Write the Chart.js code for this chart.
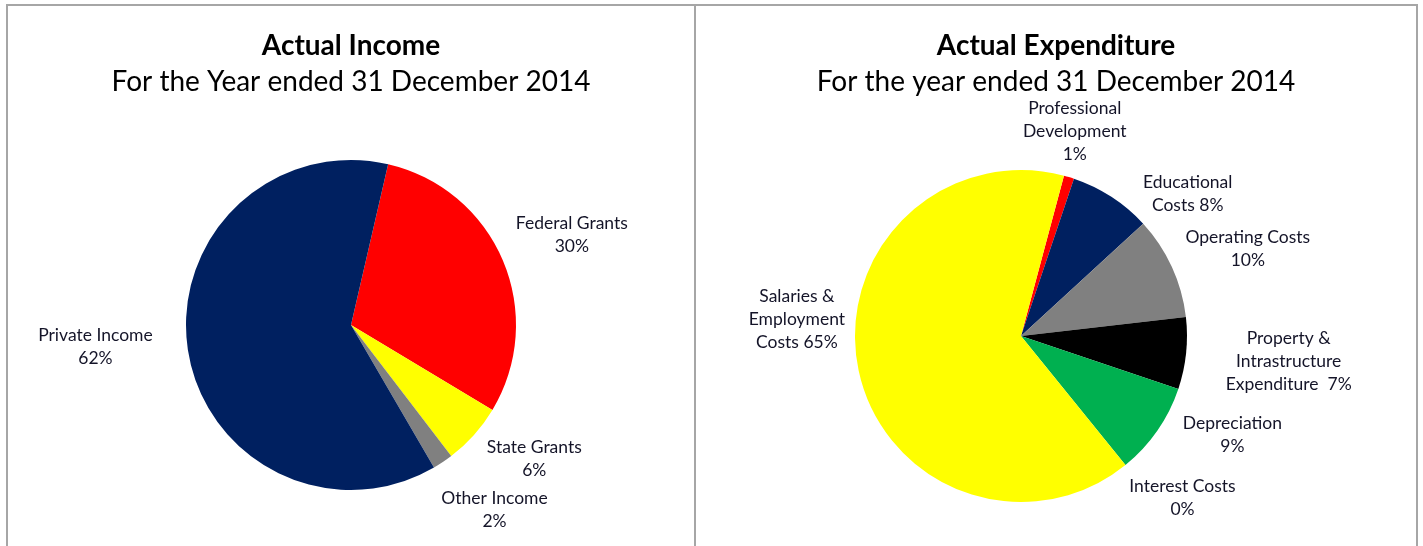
<!DOCTYPE html>
<html lang="en">
<head>
    <meta charset="UTF-8">
    <title>Actual Income and Expenditure 2014</title>
    <script src="https://cdn.jsdelivr.net/npm/chart.js"></script>
    <style>
        body { margin: 0; background: #fff; width: 1423px; height: 546px; overflow: hidden; position: relative; }
        .panel { position: absolute; top: 4px; height: 560px; border-top: 2px solid #a6a6a6; border-right: 2px solid #a6a6a6; box-sizing: border-box; }
        #leftPanel { left: 6px; width: 690px; border-left: 2px solid #a6a6a6; }
        #rightPanel { left: 696px; width: 722px; }
        canvas { position: absolute; top: 0; }
        #incomeChart { left: 8px; }
        #expenditureChart { left: 697px; }
    </style>
</head>
<body>
    <div class="panel" id="leftPanel"></div>
    <div class="panel" id="rightPanel"></div>
    <canvas id="incomeChart" width="686" height="546"></canvas>
    <canvas id="expenditureChart" width="718" height="546"></canvas>

    <script>
        // Income data (percent of total)
        const incomeLabels = [["Federal Grants"], ["State Grants"], ["Other Income"], ["Private Income"]];
        const incomeValues = [30, 6, 2, 62];
        const incomePctSep = ["\n", "\n", "\n", "\n"];  // "\n" = percentage on its own line
        const incomeColors = ["#FF0000", "#FFFF00", "#808080", "#002060"];

        // Expenditure data (percent of total)
        const expLabels = [
            ["Professional", "Development"],
            ["Educational", "Costs"],
            ["Operating Costs"],
            ["Property &", "Intrastructure", "Expenditure"],
            ["Depreciation"],
            ["Interest Costs"],
            ["Salaries &", "Employment", "Costs"]
        ];
        const expValues = [1, 8, 10, 7, 9, 0, 65];
        const expPctSep = ["\n", " ", "\n", "  ", "\n", "\n", " "];
        const expColors = ["#FF0000", "#002060", "#808080", "#000000", "#00B050", "#4472C4", "#FFFF00"];

        const FONT = "Lato, 'Open Sans', sans-serif";

        // two-line heading drawn at the canvas centre
        const headings = {
            id: "headings",
            afterDraw(chart, args, opts) {
                const ctx = chart.ctx;
                const cx = chart.width / 2;
                ctx.save();
                ctx.fillStyle = "#000";
                ctx.textAlign = "center";
                ctx.textBaseline = "alphabetic";
                ctx.font = "bold 28px " + FONT;
                ctx.fillText(opts.title, cx, 55);
                ctx.font = "28px " + FONT;
                ctx.fillText(opts.subtitle, cx, 91);
                ctx.restore();
            }
        };

        // Excel-style "outside end" labels: name + percentage
        const outsideLabels = {
            id: "outsideLabels",
            afterDatasetsDraw(chart, args, opts) {
                const ctx = chart.ctx;
                const ds = chart.data.datasets[0];
                const meta = chart.getDatasetMeta(0);
                const total = ds.data.reduce((a, b) => a + b, 0);
                const lh = 23;
                ctx.save();
                ctx.font = "17.5px " + FONT;
                ctx.fillStyle = "#141428";
                ctx.textAlign = "center";
                ctx.textBaseline = "middle";
                meta.data.forEach((arc, i) => {
                    const p = arc.getProps(["x", "y", "startAngle", "endAngle", "outerRadius"], true);
                    const mid = (p.startAngle + p.endAngle) / 2;
                    const ux = Math.cos(mid), uy = Math.sin(mid);
                    const pct = Math.round(ds.data[i] / total * 100) + "%";
                    const lines = chart.data.labels[i].slice();
                    const sep = opts.pctSep[i];
                    if (sep === "\n") lines.push(pct);
                    else lines[lines.length - 1] += sep + pct;
                    const halfW = Math.max(...lines.map(l => ctx.measureText(l).width)) / 2;
                    const halfH = lines.length * lh / 2;
                    const ax = p.x + ux * (p.outerRadius + 20);
                    const ay = p.y + uy * (p.outerRadius + 20);
                    const nudge = (opts.nudge && opts.nudge[i]) || [0, 0];
                    const cx = ax + ux * halfW + nudge[0];
                    const cy = ay + uy * halfH + nudge[1];
                    lines.forEach((l, k) => {
                        ctx.fillText(l, cx, cy - halfH + lh * (k + 0.5));
                    });
                });
                ctx.restore();
            }
        };

        function createPie(id, labels, values, colors, rotation, padding, heading, pctSep, nudge) {
            return new Chart(document.getElementById(id), {
                type: "pie",
                data: {
                    labels: labels,
                    datasets: [{
                        data: values,
                        backgroundColor: colors,
                        borderWidth: 0
                    }]
                },
                options: {
                    responsive: false,
                    animation: false,
                    rotation: rotation,
                    layout: { padding: padding },
                    plugins: {
                        legend: { display: false },
                        tooltip: { enabled: false },
                        headings: heading,
                        outsideLabels: { pctSep: pctSep, nudge: nudge }
                    }
                },
                plugins: [headings, outsideLabels]
            });
        }

        createPie("incomeChart", incomeLabels, incomeValues, incomeColors, 13,
            { top: 160, bottom: 56, left: 0, right: 0 },
            { title: "Actual Income", subtitle: "For the Year ended 31 December 2014" },
            incomePctSep,
            [[-1, -9], [10, -5], [11, 12], [-16, -9]]);

        createPie("expenditureChart", expLabels, expValues, expColors, 15,
            { top: 170, bottom: 44, left: 0, right: 70 },
            { title: "Actual Expenditure", subtitle: "For the year ended 31 December 2014" },
            expPctSep,
            [[-15, 6], [41, 33], [1, 0], [20, 2], [18, -20], [11, -1], [5, -62]]);
    </script>
</body>
</html>
